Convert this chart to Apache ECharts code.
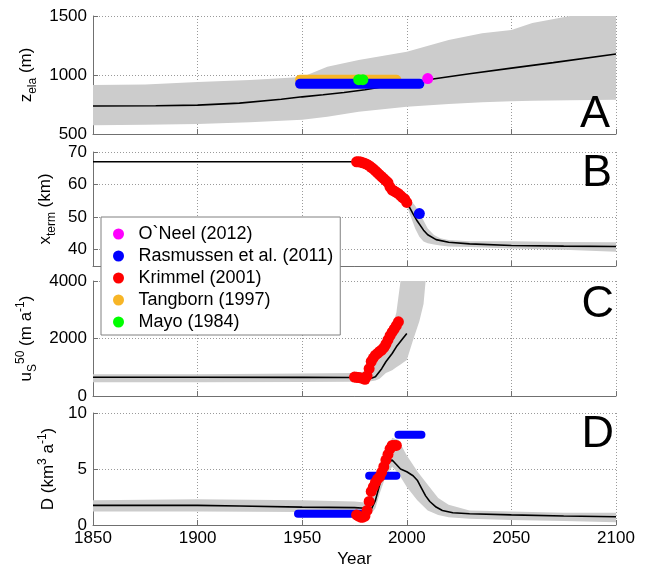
<!DOCTYPE html>
<html><head><meta charset="utf-8">
<script src="https://cdn.jsdelivr.net/npm/echarts@6/dist/echarts.min.js"></script>
<style>html,body{margin:0;padding:0;background:#fff}#c{width:646px;height:569px}</style>
</head><body><div id="c"></div>
<script>
const FONT = 'Liberation Sans, Arial, Helvetica, sans-serif';

// ---------- Panel A : z_ela (m) ----------
const aLineYears = [1850,1880,1900,1920,1940,1950,1960,1970,1980,1990,2000,2010,2030,2050,2070,2100];
const aLineVals  = [737,740,745,762,795,815,832,852,875,905,932,960,1010,1058,1105,1178];
const aBandYears = [1850,1875,1900,1925,1950,1962,1977,2000,2020,2036,2050,2060,2078,2100];
const aBandLow   = [575,578,585,600,620,647,689,731,755,770,778,782,786,790];
const aBandHigh  = [915,920,940,958,983,1070,1127,1197,1297,1353,1381,1440,1500,1500];
const aRasmussenYears = [1949,2006];  const aRasmussenVals = [925,925];
const aTangbornYears  = [1949,1995];  const aTangbornVals  = [960,960];
const aMayoYears      = [1977,1979];  const aMayoVals      = [960,960];
const aONeelYears     = [2010];       const aONeelVals     = [970];

// ---------- Panel B : x_term (km) ----------
const bLineYears = [1850,1975,1980,1985,1990,1995,2000,2003,2005,2008,2010,2014,2020,2030,2050,2075,2100];
const bLineVals  = [67,67,66.5,64.8,61.5,57.8,54.5,51,48.8,46,44.6,43.1,42.3,41.8,41.3,41.1,41.0];
const bBandYears = [1998,2000,2002,2004,2006,2008,2010,2013,2016,2020,2030,2050,2075,2100];
const bBandLow   = [54.5,53.5,50,46.5,44,42.5,42,41.6,41.3,41,40.8,40.4,40,39.4];
const bBandHigh  = [56.5,56,55,53.5,51.5,49,46.5,44.5,43.5,43,42.6,42.6,42.4,42.3];
const bKrimmelYears = [1976,1977,1978,1979,1980,1981,1982,1983,1984,1985,1986,1987,1988,1989,1990,1991,1992,1993,1994,1995,1996,1997,1998,1999,2000];
const bKrimmelVals  = [67,67,66.9,66.7,66.5,66.2,65.8,65.3,64.8,64.2,63.6,63,62.4,61.8,61.2,60.6,59.2,58.3,58,57.6,57.2,56.6,56,55.5,54.5];
const bRasmussenYears = [2006]; const bRasmussenVals = [51.1];

// ---------- Panel C : u_S^50 (m a^-1) ----------
const cLineYears = [1850,1900,1950,1975,1980,1983,1985,1988,1990,1993,1995,1998,2000];
const cLineVals  = [650,650,648,645,640,620,670,950,1190,1480,1710,1990,2175];
const cBandYears = [1850,1900,1950,1975,1980,1985,1987,1990,1993,1995,1997,2000,2003,2006,2008,2009];
const cBandLow   = [480,480,490,500,480,540,600,800,900,1000,1100,1250,1950,2600,3200,4000];
const cBandHigh  = [760,760,780,800,850,1100,1300,1800,2400,2900,4000,4000,4000,4000,4000,4000];
const cKrimmelYears = [1975,1976,1977,1978,1979,1980,1981,1982,1983,1984,1985,1986,1987,1988,1989,1990,1991,1992,1993,1994,1995,1996];
const cKrimmelVals  = [660,650,640,630,620,580,700,950,1200,1320,1420,1480,1550,1600,1680,1800,1950,2100,2220,2330,2450,2580];

// ---------- Panel D : D (km^3 a^-1) ----------
const dLineYears = [1850,1900,1920,1950,1975,1980,1983,1985,1987,1989,1991,1993,1995,1997,2000,2003,2005,2007,2009,2011,2014,2017,2022,2030,2050,2075,2100];
const dLineVals  = [1.75,1.75,1.7,1.6,1.55,1.5,1.4,2.2,3.6,5.0,5.6,5.8,5.4,5.0,4.75,4.4,4.0,3.3,2.6,2.1,1.6,1.3,1.1,1.0,0.9,0.8,0.73];
const dBandYears = [1850,1900,1950,1975,1980,1983,1985,1987,1990,1993,1996,2000,2005,2010,2015,2020,2030,2050,2075,2100];
const dBandLow   = [1.2,1.2,1.15,1.1,1.0,1.0,1.5,2.8,4.4,5.2,4.6,3.4,2.2,1.3,0.9,0.7,0.55,0.45,0.35,0.25];
const dBandHigh  = [2.2,2.3,2.2,2.1,2.0,2.1,3.0,4.6,6.2,7.8,7.6,6.2,4.8,3.6,2.4,1.8,1.3,1.2,1.1,1.1];
const dKrimmelYears = [1976,1977,1978,1979,1980,1981,1982,1983,1984,1985,1986,1987,1988,1989,1990,1991,1992,1993,1994,1995];
const dKrimmelVals  = [0.9,0.8,0.7,0.7,0.8,1.3,2.1,3.0,3.4,3.8,4.1,4.3,4.7,5.2,5.8,6.3,6.8,7.1,7.1,7.1];
const dRasmussen1Years = [1948,1979]; const dRasmussen1Vals = [1.0,1.0];
const dRasmussen2Years = [1982,1995]; const dRasmussen2Vals = [4.4,4.4];
const dRasmussen3Years = [1996,2007]; const dRasmussen3Vals = [8.05,8.05];

// ---------- axes ----------
const xTicks = { min: 1850, max: 2100, interval: 50 };
const yRanges = [ {min:500,max:1500,interval:500}, {min:35,max:70,splitNumber:4}, {min:0,max:4000,interval:2000}, {min:0,max:10,interval:5} ];
const panelLetters = ['A','B','C','D'];

const NAMES = { oneel:'O`Neel (2012)', ras:'Rasmussen et al. (2011)', kri:'Krimmel (2001)', tan:'Tangborn (1997)', mayo:'Mayo (1984)' };
const COL = { oneel:'#ff00ff', ras:'#0000ff', kri:'#ff0000', tan:'#f7b526', mayo:'#00ff00', grey:'#cccccc' };

const pairs = (xs, ys) => xs.map((x, i) => [x, ys[i]]);

const grids = [
  { left: 93, right: 30, top: 16,  height: 118 },
  { left: 93, right: 30, top: 152, height: 114 },
  { left: 93, right: 30, top: 281, height: 115 },
  { left: 93, right: 30, top: 413, height: 115 }
];

const axisLineStyle = { color: '#707070', width: 1 };
const splitStyle = { color: '#9a9a9a', width: 1, type: [1, 2] };

const xAxes = grids.map((g, i) => ({
  type: 'value', gridIndex: i, min: xTicks.min, max: xTicks.max, interval: xTicks.interval,
  axisLine: { show: true, lineStyle: axisLineStyle, onZero: false },
  axisTick: { show: true, inside: true, length: 5, lineStyle: axisLineStyle },
  axisLabel: { show: i === 3, color: '#000', fontFamily: FONT, fontSize: 17, margin: 5, formatter: v => String(v) },
  splitLine: { show: true, lineStyle: splitStyle },
  name: i === 3 ? 'Year' : '', nameLocation: 'middle', nameGap: 26,
  nameTextStyle: { fontFamily: FONT, fontSize: 17, color: '#000' }
}));

const rich = {
  m: { fontFamily: FONT, fontSize: 17, color: '#000' },
  s: { fontFamily: FONT, fontSize: 12, color: '#000', padding: [12, 0, 0, 0] },
  p: { fontFamily: FONT, fontSize: 12, color: '#000', padding: [0, 0, 12, 0] }
};
const yNames = [
  '{m|z}{s|ela}{m| (m)}',
  '{m|x}{s|term}{m| (km)}',
  '{m|u}{s|S}{p|50}{m| (m a}{p|-1}{m|)}',
  '{m|D (km}{p|3}{m| a}{p|-1}{m|)}'
];
const yNameGaps = [50, 34, 50, 19];

const yAxes = grids.map((g, i) => Object.assign({
  type: 'value', gridIndex: i,
  axisLine: { show: true, lineStyle: axisLineStyle },
  axisTick: { show: true, inside: true, length: 5, lineStyle: axisLineStyle },
  axisLabel: { color: '#000', fontFamily: FONT, fontSize: 17, margin: 6,
    formatter: v => (i === 1 && v % 10 !== 0) ? '' : String(v) },
  splitLine: { show: true, lineStyle: splitStyle },
  name: yNames[i], nameLocation: 'middle', nameRotate: 90, nameGap: yNameGaps[i],
  nameTextStyle: { rich: rich }
}, yRanges[i]));

function band(xs, lo, hi, idx) {
  return {
    type: 'custom', xAxisIndex: idx, yAxisIndex: idx, silent: true, z: 1,
    data: [[xs[0], lo[0]]],
    renderItem: (params, api) => {
      const pts = [];
      for (let k = 0; k < xs.length; k++) pts.push(api.coord([xs[k], hi[k]]));
      for (let k = xs.length - 1; k >= 0; k--) pts.push(api.coord([xs[k], lo[k]]));
      return { type: 'polygon', shape: { points: pts }, style: { fill: COL.grey, stroke: null } };
    }
  };
}
function blackLine(xs, ys, idx) {
  return { type: 'line', xAxisIndex: idx, yAxisIndex: idx, data: pairs(xs, ys), symbol: 'none',
    lineStyle: { color: '#000', width: 1.6 }, z: 3, silent: true };
}
function thickLine(name, color, xs, ys, idx, w, z) {
  return { type: 'line', name: name, color: color, xAxisIndex: idx, yAxisIndex: idx, data: pairs(xs, ys), symbol: 'none',
    lineStyle: { color: color, width: w, cap: 'round' }, z: z, silent: true };
}
function dots(name, color, xs, ys, idx, size, z) {
  return { type: 'scatter', name: name, color: color, xAxisIndex: idx, yAxisIndex: idx, data: pairs(xs, ys),
    symbol: 'circle', symbolSize: size, itemStyle: { color: color, opacity: 1 }, z: z, silent: true };
}

const series = [
  // A
  band(aBandYears, aBandLow, aBandHigh, 0),
  blackLine(aLineYears, aLineVals, 0),
  thickLine(NAMES.tan, COL.tan, aTangbornYears, aTangbornVals, 0, 10, 4),
  thickLine(NAMES.ras, COL.ras, aRasmussenYears, aRasmussenVals, 0, 10, 5),
  dots(NAMES.mayo, COL.mayo, aMayoYears, aMayoVals, 0, 11, 6),
  dots(NAMES.oneel, COL.oneel, aONeelYears, aONeelVals, 0, 11, 6),
  // B
  band(bBandYears, bBandLow, bBandHigh, 1),
  blackLine(bLineYears, bLineVals, 1),
  dots(NAMES.kri, COL.kri, bKrimmelYears, bKrimmelVals, 1, 11, 5),
  dots(NAMES.ras, COL.ras, bRasmussenYears, bRasmussenVals, 1, 11, 6),
  // C
  band(cBandYears, cBandLow, cBandHigh, 2),
  blackLine(cLineYears, cLineVals, 2),
  dots(NAMES.kri, COL.kri, cKrimmelYears, cKrimmelVals, 2, 11, 5),
  // D
  band(dBandYears, dBandLow, dBandHigh, 3),
  blackLine(dLineYears, dLineVals, 3),
  thickLine(NAMES.ras, COL.ras, dRasmussen1Years, dRasmussen1Vals, 3, 8, 4),
  thickLine(NAMES.ras, COL.ras, dRasmussen2Years, dRasmussen2Vals, 3, 8, 4),
  thickLine(NAMES.ras, COL.ras, dRasmussen3Years, dRasmussen3Vals, 3, 8, 4),
  dots(NAMES.kri, COL.kri, dKrimmelYears, dKrimmelVals, 3, 11, 5)
];

const letterPos = [ {right: 36, top: 92}, {right: 34, top: 151}, {right: 32, top: 282}, {right: 32, top: 412} ];
const graphic = panelLetters.map((t, i) => ({
  type: 'text', right: letterPos[i].right, top: letterPos[i].top, z: 10,
  style: { text: t, font: '45px ' + FONT, fill: '#000' }
}));

const chart = echarts.init(document.getElementById('c'), null, { renderer: 'canvas' });
chart.setOption({
  animation: false,
  backgroundColor: '#ffffff',
  grid: grids,
  xAxis: xAxes,
  yAxis: yAxes,
  legend: {
    data: [NAMES.oneel, NAMES.ras, NAMES.kri, NAMES.tan, NAMES.mayo],
    orient: 'vertical', left: 101, top: 217, icon: 'circle',
    itemWidth: 30, itemHeight: 11, itemGap: 4,
    padding: [8, 7, 4, 12],
    backgroundColor: '#ffffff', borderColor: '#808080', borderWidth: 1,
    textStyle: { fontFamily: FONT, fontSize: 18, color: '#000' },
    selectedMode: false, z: 8
  },
  graphic: graphic,
  series: series
});
</script></body></html>
